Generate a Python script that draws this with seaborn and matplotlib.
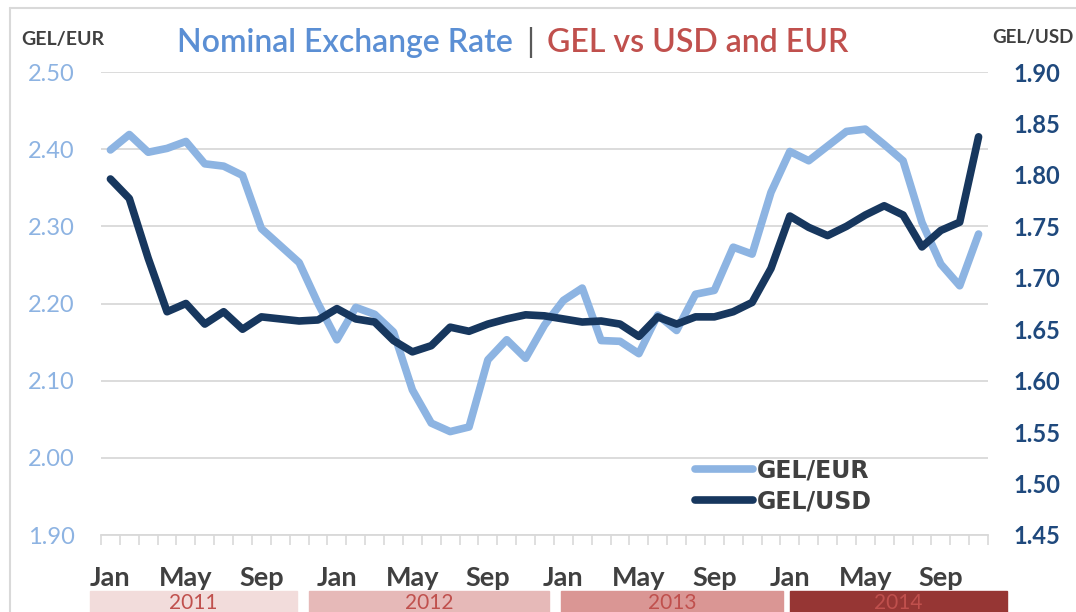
import numpy as np
import pandas as pd
import seaborn as sns
from matplotlib import pyplot as plt
from matplotlib.lines import Line2D
from matplotlib.patches import Rectangle
from matplotlib.ticker import FormatStrFormatter

sns.set_theme(style="white")
plt.rcParams["font.family"] = ["Lato", "DejaVu Sans"]

# Monthly data, Jan 2011 .. Nov 2014
month_names = ["Jan", "Feb", "Mar", "Apr", "May", "Jun", "Jul", "Aug", "Sep", "Oct", "Nov", "Dec"]
years = ["2011", "2012", "2013", "2014"]

gel_eur = [
    2.399, 2.419, 2.396, 2.401, 2.410, 2.381, 2.378, 2.366, 2.297, 2.275, 2.253, 2.200,
    2.153, 2.195, 2.186, 2.163, 2.088, 2.045, 2.034, 2.040, 2.127, 2.153, 2.129, 2.172,
    2.204, 2.220, 2.152, 2.151, 2.135, 2.185, 2.165, 2.212, 2.217, 2.273, 2.264, 2.344,
    2.397, 2.385, 2.404, 2.423, 2.426, 2.406, 2.385, 2.305, 2.251, 2.223, 2.290,
]
gel_usd = [
    1.796, 1.777, 1.719, 1.667, 1.675, 1.655, 1.667, 1.650, 1.662, 1.660, 1.658, 1.659,
    1.670, 1.660, 1.657, 1.639, 1.628, 1.634, 1.652, 1.648, 1.655, 1.660, 1.664, 1.663,
    1.660, 1.657, 1.658, 1.655, 1.643, 1.662, 1.655, 1.662, 1.662, 1.667, 1.676, 1.709,
    1.760, 1.749, 1.741, 1.750, 1.761, 1.770, 1.761, 1.730, 1.746, 1.754, 1.837,
]

labels = [f"{m} {y}" for y in years for m in month_names][: len(gel_eur)]
df = pd.DataFrame({"period": labels, "GEL/EUR": gel_eur, "GEL/USD": gel_usd})
df["pos"] = np.arange(len(df))

EUR_COLOR = "#8db4e2"
USD_COLOR = "#17375e"
GRID = "#d9d9d9"
TEXT = "#404040"

W, H = 1076, 612


def fx(px):
    return px / W


def fy(py):
    return 1 - py / H


fig = plt.figure(figsize=(W / 100, H / 100), dpi=100)
ax = fig.add_axes([fx(101), fy(535), fx(988) - fx(101), fy(72) - fy(535)])
ax2 = ax.twinx()

line_kw = dict(linewidth=5.5, solid_capstyle="round", solid_joinstyle="round", legend=False)
sns.lineplot(data=df, x="pos", y="GEL/EUR", ax=ax, color=EUR_COLOR, **line_kw)
sns.lineplot(data=df, x="pos", y="GEL/USD", ax=ax2, color=USD_COLOR, **line_kw)

ax.set_xlim(-0.5, len(df) - 0.5)
ax.set_ylim(1.90, 2.50)
ax2.set_ylim(1.45, 1.90)
ax.set_yticks(np.arange(1.90, 2.501, 0.10))
ax2.set_yticks(np.arange(1.45, 1.901, 0.05))
ax.yaxis.set_major_formatter(FormatStrFormatter("%.2f"))
ax2.yaxis.set_major_formatter(FormatStrFormatter("%.2f"))

ax.grid(axis="y", color=GRID, linewidth=1.3)
ax.grid(axis="x", visible=False)
ax2.grid(False)
ax.set_axisbelow(True)

for side in ["top", "left", "right"]:
    ax.spines[side].set_visible(False)
for side in ["top", "left", "right", "bottom"]:
    ax2.spines[side].set_visible(False)
ax.spines["bottom"].set_color(GRID)
ax.spines["bottom"].set_linewidth(1.3)

ax.set_xlabel("")
ax.set_ylabel("")
ax2.set_ylabel("")

# month labels every four months, small category ticks between months
ax.set_xticks(df["pos"][::4])
ax.set_xticklabels([p.split()[0] for p in df["period"][::4]])
ax.set_xticks(np.arange(-0.5, len(df)), minor=True)
ax.tick_params(axis="x", which="major", length=0, pad=22, labelsize=19.5, labelcolor=TEXT)
ax.tick_params(axis="x", which="minor", bottom=True, length=7, width=1.2, color=GRID, direction="out")
for t in ax.get_xticklabels():
    t.set_fontweight("bold")

ax.tick_params(axis="y", left=False, length=0, pad=19, labelsize=17, labelcolor="#8db3e2")
ax2.tick_params(axis="y", right=False, length=0, pad=18, labelsize=17, labelcolor="#1f497d")
for t in ax2.get_yticklabels():
    t.set_fontweight("bold")

# title
fig.text(fx(513), fy(52), "Nominal Exchange Rate", ha="right", va="baseline",
         fontsize=23, fontweight="semibold", color="#5b8fd4")
fig.text(fx(530), fy(52), "|", ha="center", va="baseline", fontsize=23, color="#595959")
fig.text(fx(547), fy(52), "GEL vs USD and EUR", ha="left", va="baseline",
         fontsize=23, fontweight="semibold", color="#c0504d")

fig.text(fx(21), fy(45), "GEL/EUR", ha="left", va="baseline", fontsize=14,
         fontweight="bold", color=TEXT)
fig.text(fx(992), fy(43), "GEL/USD", ha="left", va="baseline", fontsize=13.5,
         fontweight="bold", color=TEXT)

# legend
handles = [
    Line2D([], [], color=EUR_COLOR, linewidth=5.5, solid_capstyle="round"),
    Line2D([], [], color=USD_COLOR, linewidth=5.5, solid_capstyle="round"),
]
fig.legend(handles, ["GEL/EUR", "GEL/USD"], loc="upper left",
           bbox_to_anchor=(fx(695), fy(458)), frameon=False, borderpad=0, borderaxespad=0,
           handlelength=2.45, handletextpad=0.15, labelspacing=0.3, labelcolor=TEXT,
           prop=dict(family="DejaVu Sans", weight="bold", size=17))

# year bands under the month labels
band_x = [(90, 297), (309, 549), (561, 783), (790, 1007)]
band_colors = ["#f2dcdb", "#e6b9b8", "#da9694", "#963634"]
for (x0, x1), c, yr in zip(band_x, band_colors, years):
    fig.patches.append(Rectangle((fx(x0), fy(640)), fx(x1) - fx(x0), fy(591) - fy(640),
                                 transform=fig.transFigure, color=c, zorder=0))
    fig.text(fx((x0 + x1) / 2), fy(609), yr, ha="center", va="baseline", fontsize=15,
             color="#c0504d")

# chart frame
fig.add_artist(Line2D([fx(10), fx(10)], [0, fy(8)], color=GRID, linewidth=1.5))
fig.add_artist(Line2D([fx(10), 1], [fy(8), fy(8)], color=GRID, linewidth=1.5))

fig.savefig("out.png", dpi=100)
